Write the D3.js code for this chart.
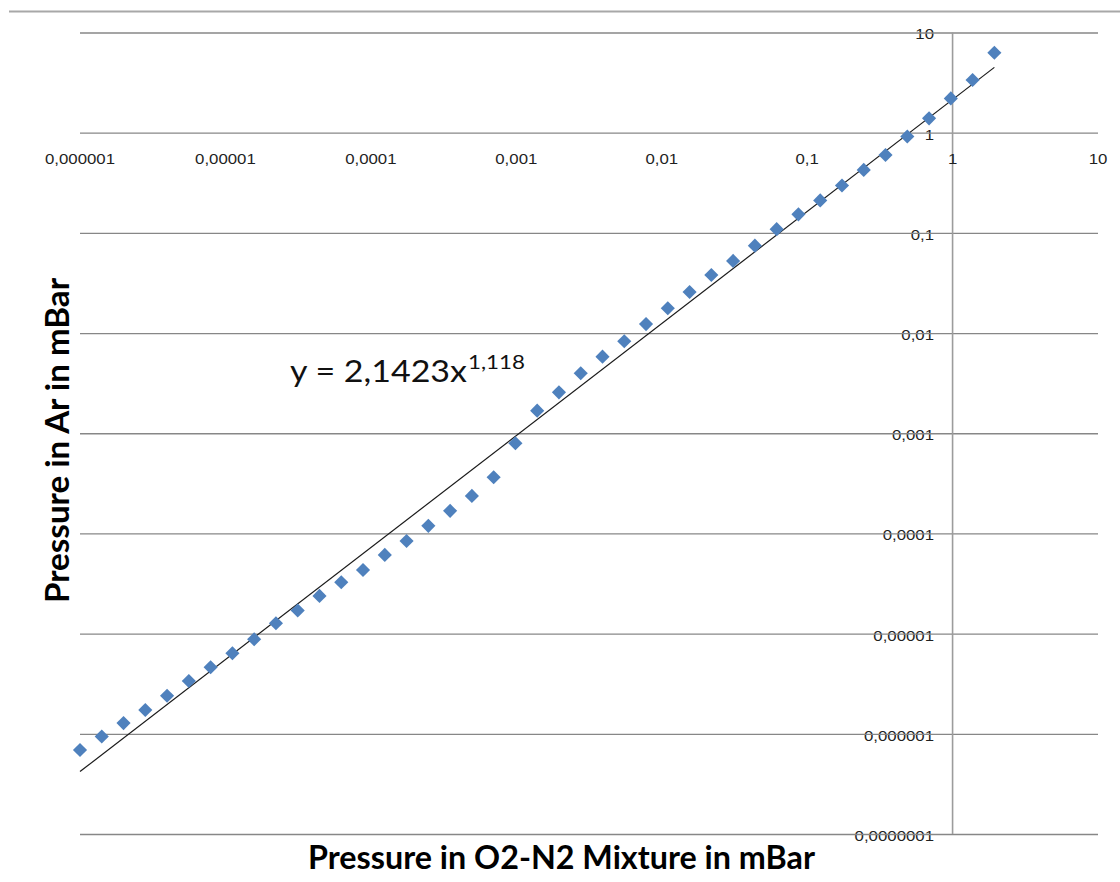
<!DOCTYPE html>
<html>
<head>
<meta charset="utf-8">
<script src="https://cdn.jsdelivr.net/npm/d3@7"></script>
<style>
  html, body { margin: 0; padding: 0; background: #fff; }
  svg { display: block; }
</style>
</head>
<body>
<svg id="chart" width="1120" height="882"></svg>
<script>
// Pressure of the O2-N2 mixture (mBar), one reading per step
const mixturePressure = [
  1.0e-6, 1.411e-6, 1.992e-6, 2.812e-6, 3.969e-6, 5.603e-6, 7.909e-6, 1.117e-5, 1.576e-5, 2.225e-5,
  3.141e-5, 4.434e-5, 6.258e-5, 8.834e-5, 1.247e-4, 1.760e-4, 2.485e-4, 3.507e-4, 4.951e-4, 6.989e-4,
  9.863e-4, 1.392e-3, 1.965e-3, 2.774e-3, 3.916e-3, 5.527e-3, 7.802e-3, 1.101e-2, 1.555e-2, 2.194e-2,
  3.097e-2, 4.372e-2, 6.172e-2, 8.712e-2, 0.1230, 0.1736, 0.2450, 0.3459, 0.4883, 0.6892,
  0.9727, 1.373, 1.938
];

// Corresponding pressure in Ar (mBar)
const argonPressure = [
  6.9e-7, 9.4e-7, 1.28e-6, 1.73e-6, 2.40e-6, 3.37e-6, 4.62e-6, 6.37e-6, 8.79e-6, 1.27e-5,
  1.70e-5, 2.38e-5, 3.26e-5, 4.32e-5, 6.10e-5, 8.41e-5, 1.19e-4, 1.68e-4, 2.37e-4, 3.64e-4,
  7.95e-4, 1.68e-3, 2.56e-3, 3.97e-3, 5.81e-3, 8.28e-3, 1.23e-2, 1.77e-2, 2.57e-2, 3.80e-2,
  5.25e-2, 7.45e-2, 0.109, 0.153, 0.211, 0.297, 0.425, 0.599, 0.916, 1.39,
  2.20, 3.36, 6.28
];

// Power-law trend: y = a * x^b
const trendCoef = 2.1423;
const trendExp = 1.118;

const xTicks = [1e-6, 1e-5, 1e-4, 1e-3, 1e-2, 1e-1, 1, 10];
const xTickLabels = ["0,000001", "0,00001", "0,0001", "0,001", "0,01", "0,1", "1", "10"];
const yTicks = [1e-7, 1e-6, 1e-5, 1e-4, 1e-3, 1e-2, 1e-1, 1, 10];
const yTickLabels = ["0,0000001", "0,000001", "0,00001", "0,0001", "0,001", "0,01", "0,1", "1", "10"];

const xTitle = "Pressure in O2-N2 Mixture in mBar";
const yTitle = "Pressure in Ar in mBar";
const equationMain = "y = 2,1423x";
const equationExp = "1,118";

const svg = d3.select("#chart");

const x = d3.scaleLog().domain([1e-6, 10]).range([80, 1098]);
const y = d3.scaleLog().domain([1e-7, 10]).range([834, 32.5]);

// Outer frame line across the top
svg.append("line")
  .attr("x1", 9).attr("x2", 1120)
  .attr("y1", 11.5).attr("y2", 11.5)
  .attr("stroke", "#a8a8a8").attr("stroke-width", 2);

const tickFont = "'Liberation Sans', Arial, sans-serif";
const textColor = "#1f1f1f";

// Y tick labels, right-aligned just left of the vertical axis
const yLabelIndex = new Map(yTicks.map((v, i) => [v, yTickLabels[i]]));
svg.append("g")
  .selectAll("g")
  .data(yTicks)
  .join("g")
  .attr("transform", d => `translate(934,${y(d) + 2})`)
  .append("text")
  .attr("transform", "scale(1.2,1)")
  .attr("text-anchor", "end")
  .attr("dominant-baseline", "central")
  .attr("font-family", tickFont)
  .attr("font-size", 14)
  .attr("fill", textColor)
  .text(d => yLabelIndex.get(d));

// Horizontal gridlines drawn through a left axis with full-width ticks
const gridAxis = d3.axisLeft(y)
  .tickValues(yTicks)
  .tickSize(-(1098 - 80))
  .tickFormat("");
const gridG = svg.append("g")
  .attr("transform", "translate(80,0)")
  .call(gridAxis);
gridG.select(".domain").remove();
gridG.selectAll(".tick line")
  .attr("stroke", "#878787")
  .attr("stroke-width", 1.3);

// Vertical axis crossing at x = 1
svg.append("line")
  .attr("x1", x(1)).attr("x2", x(1))
  .attr("y1", y(10)).attr("y2", y(1e-7))
  .attr("stroke", "#9c9c9c").attr("stroke-width", 1.6);

// X tick labels sitting below the y = 1 line
const xLabelIndex = new Map(xTicks.map((v, i) => [v, xTickLabels[i]]));
svg.append("g")
  .selectAll("g")
  .data(xTicks)
  .join("g")
  .attr("transform", d => `translate(${x(d)},159)`)
  .append("text")
  .attr("transform", "scale(1.2,1)")
  .attr("text-anchor", "middle")
  .attr("dominant-baseline", "central")
  .attr("font-family", tickFont)
  .attr("font-size", 14)
  .attr("fill", textColor)
  .text(d => xLabelIndex.get(d));

// Trend line over the range of the measurements
const xExtent = d3.extent(mixturePressure);
const trendPts = xExtent.map(v => [v, trendCoef * Math.pow(v, trendExp)]);
svg.append("path")
  .datum(trendPts)
  .attr("fill", "none")
  .attr("stroke", "#1a1a1a")
  .attr("stroke-width", 1.2)
  .attr("d", d3.line().x(d => x(d[0])).y(d => y(d[1])));

// Data markers: squares turned 45 degrees
const marker = d3.symbol().type(d3.symbolSquare).size(100);
svg.append("g")
  .selectAll("path")
  .data(mixturePressure.map((v, i) => [v, argonPressure[i]]))
  .join("path")
  .attr("d", marker)
  .attr("transform", d => `translate(${x(d[0])},${y(d[1])}) rotate(45)`)
  .attr("fill", "#4f81bd");

// Trend equation
const eqFont = "Lato, 'Open Sans', sans-serif";
svg.append("text")
  .attr("x", 290).attr("y", 382)
  .attr("font-family", eqFont)
  .attr("font-size", 30)
  .attr("textLength", 177)
  .attr("lengthAdjust", "spacingAndGlyphs")
  .attr("fill", "#111")
  .text(equationMain);
svg.append("text")
  .attr("x", 468).attr("y", 369)
  .attr("font-family", eqFont)
  .attr("font-size", 19)
  .attr("textLength", 57)
  .attr("lengthAdjust", "spacingAndGlyphs")
  .attr("fill", "#111")
  .text(equationExp);

// Axis titles
const titleFont = "Lato, 'Open Sans', sans-serif";
svg.append("text")
  .attr("x", 561.5).attr("y", 869)
  .attr("text-anchor", "middle")
  .attr("font-family", titleFont)
  .attr("font-weight", "bold")
  .attr("font-size", 33)
  .attr("textLength", 507)
  .attr("lengthAdjust", "spacingAndGlyphs")
  .attr("fill", "#000")
  .text(xTitle);

svg.append("text")
  .attr("transform", "translate(69,440.5) rotate(-90)")
  .attr("text-anchor", "middle")
  .attr("font-family", titleFont)
  .attr("font-weight", "bold")
  .attr("font-size", 33)
  .attr("textLength", 325)
  .attr("lengthAdjust", "spacingAndGlyphs")
  .attr("fill", "#000")
  .text(yTitle);
</script>
</body>
</html>
